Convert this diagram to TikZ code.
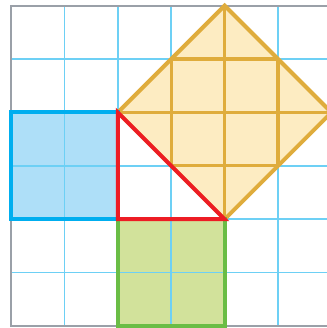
\documentclass[tikz,border=0pt]{standalone}
\usepackage{xcolor}
\usepackage{tikz}
\definecolor{gridcyan}{HTML}{6DD0F5}
\definecolor{framegray}{HTML}{9AA0A8}
\definecolor{sqblue}{HTML}{00AEEF}
\definecolor{sqbluefill}{HTML}{AEDFF8}
\definecolor{sqgreen}{HTML}{6ABD45}
\definecolor{sqgreenfill}{HTML}{D2E29B}
\definecolor{sqgold}{HTML}{DFAC3C}
\definecolor{sqgoldfill}{HTML}{FDECC2}
\definecolor{trired}{HTML}{ED1C24}

\begin{document}
\begin{tikzpicture}[
  thin grid/.style={gridcyan, line width=0.8pt},
  edge/.style={line width=2.1pt, line join=miter}
]
\useasboundingbox (-0.206,-0.037) rectangle (5.899,6.105);
\fill[sqbluefill] (0,2) rectangle (2,4);
\fill[sqgreenfill] (2,0) rectangle (4,2);
\fill[sqgoldfill] (4,6) -- (2,4) -- (4,2) -- (6,4) -- cycle;
\draw[thin grid] (0,0) grid (6,6);
\begin{scope}
\clip (4,6) -- (2,4) -- (4,2) -- (6,4) -- cycle;
\foreach \k in {3,4,5} {
  \draw[sqgold, line width=1.8pt] (\k,0) -- (\k,6);
  \draw[sqgold, line width=1.8pt] (0,\k) -- (6,\k);
}
\end{scope}
\draw[framegray, line width=1.1pt] (6,0) -- (0,0) -- (0,6) -- (6,6);
\draw[edge, sqgold] (4,6) -- (2,4) -- (4,2) -- (6,4) -- cycle;
\draw[edge, sqblue] (0,2) rectangle (2,4);
\draw[edge, sqgreen] (2,0) rectangle (4,2);
\draw[edge, trired] (2,4) -- (2,2) -- (4,2) -- cycle;
\end{tikzpicture}
\end{document}
